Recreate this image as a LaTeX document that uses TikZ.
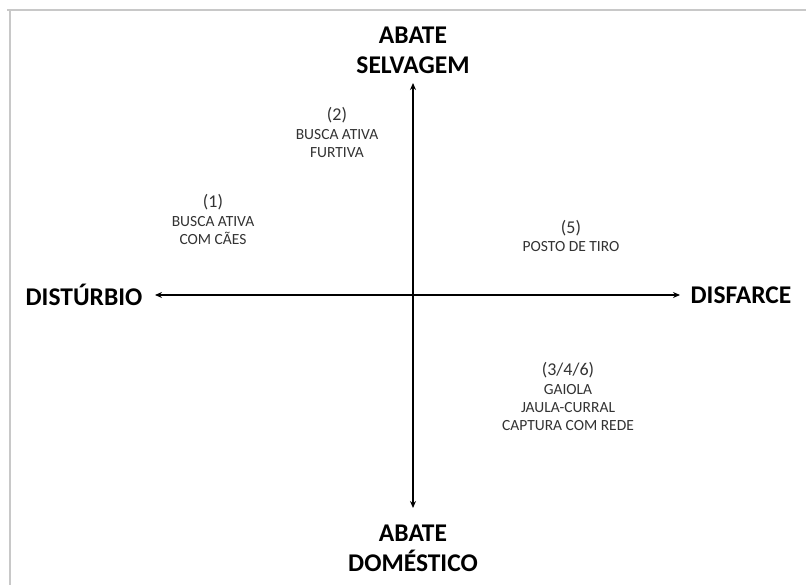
\documentclass[tikz,border=0pt]{standalone}
\usepackage{fontspec}
\setmainfont{Carlito}
\usetikzlibrary{arrows.meta}
\definecolor{txtgray}{HTML}{333333}
\definecolor{framegray}{HTML}{C8C8C8}
\tikzset{
  axislabel/.style={font=\fontsize{25.5}{30}\selectfont\bfseries, text=black, inner sep=0pt, align=center},
  numlabel/.style={font=\fontsize{18}{20}\selectfont, text=txtgray, inner sep=0pt},
  desclabel/.style={font=\fontsize{15.5}{18}\selectfont, text=txtgray, inner sep=0pt, align=center, anchor=north},
  axisline/.style={line width=1.5pt, {Stealth[length=7pt,width=6pt]}-{Stealth[length=7pt,width=6pt]}},
  frameline/.style={draw=framegray, line width=2pt}
}
\begin{document}
\begin{tikzpicture}[x=1pt,y=-1pt]
\useasboundingbox (0,0) rectangle (806,585);
\fill[white] (0,0) rectangle (806,585);
% frame (top and left edges visible)
\draw[frameline] (7,10) -- (806,10);
\draw[frameline] (10,10) -- (10,585);

% axes
\coordinate (ytop) at (413,83);
\coordinate (ybot) at (413,508);
\coordinate (xleft) at (155,295);
\coordinate (xright) at (680,295);
\draw[axisline] (ybot) -- (ytop);
\draw[axisline] (xleft) -- (xright);

% axis labels
\node[axislabel] (top) at (413,50) {ABATE\\SELVAGEM};
\node[axislabel] (bottom) at (413,548) {ABATE\\DOMÉSTICO};
\node[axislabel] (left) at (84,295) {DISTÚRBIO};
\node[axislabel] (right) at (741,295) {DISFARCE};

% quadrant items
\node[numlabel] (n1) at (213,202) {(1)};
\node[desclabel] (d1) at (213,216) {BUSCA ATIVA\\COM CÃES};

\node[numlabel] (n2) at (337,115) {(2)};
\node[desclabel] (d2) at (337,129) {BUSCA ATIVA\\FURTIVA};

\node[numlabel] (n5) at (571,228) {(5)};
\node[desclabel] (d5) at (571,241) {POSTO DE TIRO};

\node[numlabel] (n346) at (568,370) {(3/4/6)};
\node[desclabel] (d346) at (568,384) {GAIOLA\\JAULA-CURRAL\\CAPTURA COM REDE};
\end{tikzpicture}
\end{document}
